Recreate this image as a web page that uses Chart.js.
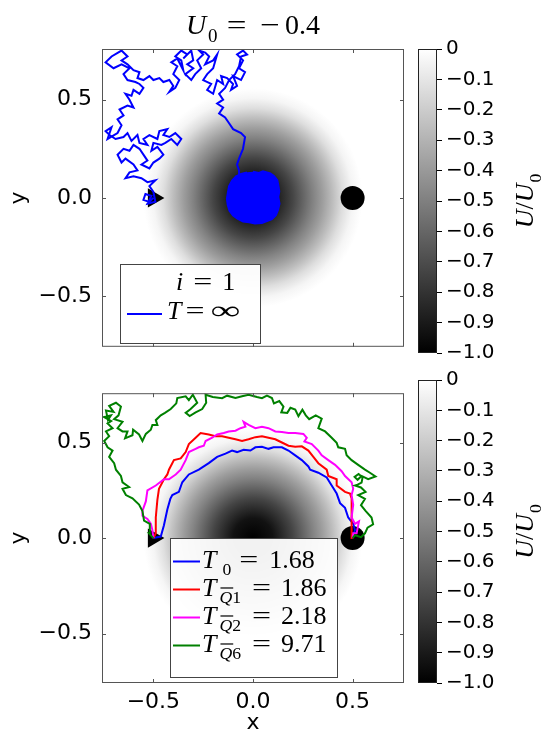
<!DOCTYPE html>
<html>
<head>
<meta charset="utf-8">
<script src="https://cdn.jsdelivr.net/npm/chart.js@4.4.1/dist/chart.umd.min.js"></script>
<style>
  html, body { margin: 0; padding: 0; background: #fff; }
  body { width: 542px; height: 739px; position: relative; overflow: hidden; }
  canvas { position: absolute; }
</style>
</head>
<body>
<canvas id="cbTop" width="132" height="370" style="left:410px;top:0;width:132px;height:370px"></canvas>
<canvas id="cbBottom" width="132" height="379" style="left:410px;top:360px;width:132px;height:379px"></canvas>
<canvas id="topPlot" width="416" height="370" style="left:0;top:0;width:416px;height:370px"></canvas>
<canvas id="bottomPlot" width="416" height="369" style="left:0;top:370px;width:416px;height:369px"></canvas>
<script>
// axes
const axisLim = 0.758;
const xyTicks = [-0.5, 0, 0.5];
const cbTicks = [0, -0.1, -0.2, -0.3, -0.4, -0.5, -0.6, -0.7, -0.8, -0.9, -1.0];
const cbLabels = ['0', '−0.1', '−0.2', '−0.3', '−0.4', '−0.5', '−0.6', '−0.7', '−0.8', '−0.9', '−1.0'];

// radial profile of the well, U/U0 against r
const potentialR = [0, 0.1, 0.2, 0.3, 0.35, 0.4, 0.45, 0.5, 0.55];
const potentialU = [-1, -0.93, -0.73, -0.49, -0.38, -0.26, -0.13, -0.04, 0];

// start (triangle) and target (circle)
const startPt = [-0.5, 0];
const targetPt = [0.5, 0];

// top panel: i = 1, T = inf
const walkTop = [
  [-0.5,0],[-0.52,-0.02],[-0.55,-0.01],[-0.54,0.02],[-0.51,0.01],[-0.53,-0.03],[-0.49,-0.02],[-0.5,0.03],
  [-0.52,0.06],[-0.49,0.09],[-0.53,0.08],[-0.56,0.1],[-0.6,0.11],[-0.64,0.1],[-0.62,0.13],[-0.58,0.14],
  [-0.6,0.17],[-0.64,0.2],[-0.66,0.18],[-0.68,0.22],[-0.65,0.25],[-0.62,0.24],[-0.6,0.27],[-0.57,0.25],
  [-0.55,0.22],[-0.53,0.19],[-0.56,0.17],[-0.52,0.15],[-0.5,0.18],[-0.47,0.2],[-0.45,0.22],[-0.48,0.26],
  [-0.51,0.24],[-0.5,0.28],[-0.46,0.27],[-0.44,0.28],[-0.41,0.3],[-0.38,0.27],[-0.36,0.3],[-0.39,0.33],
  [-0.42,0.31],[-0.45,0.32],[-0.43,0.35],[-0.47,0.34],[-0.48,0.3],[-0.52,0.32],[-0.55,0.3],[-0.53,0.27],
  [-0.57,0.28],[-0.58,0.32],[-0.61,0.29],[-0.63,0.33],[-0.65,0.31],[-0.69,0.3],[-0.72,0.32],[-0.74,0.34],
  [-0.71,0.36],[-0.73,0.3],[-0.68,0.33],[-0.66,0.37],[-0.68,0.4],[-0.65,0.42],[-0.67,0.45],[-0.63,0.47],
  [-0.6,0.46],[-0.62,0.5],[-0.64,0.53],[-0.61,0.52],[-0.6,0.55],[-0.57,0.53],[-0.55,0.56],[-0.57,0.58],
  [-0.59,0.59],[-0.63,0.6],[-0.65,0.63],[-0.62,0.66],[-0.66,0.68],[-0.7,0.66],[-0.74,0.69],[-0.71,0.72],
  [-0.66,0.75],[-0.63,0.72],[-0.66,0.7],[-0.63,0.68],[-0.6,0.65],[-0.57,0.64],[-0.58,0.61],[-0.55,0.6],
  [-0.52,0.62],[-0.5,0.6],[-0.47,0.61],[-0.45,0.59],[-0.42,0.6],[-0.4,0.57],[-0.42,0.54],[-0.39,0.56],
  [-0.37,0.6],[-0.4,0.63],[-0.38,0.67],[-0.41,0.69],[-0.38,0.71],[-0.35,0.65],[-0.36,0.7],[-0.39,0.72],
  [-0.36,0.75],[-0.33,0.73],[-0.35,0.71],[-0.31,0.75],[-0.3,0.7],[-0.33,0.68],[-0.3,0.66],[-0.34,0.63],
  [-0.31,0.6],[-0.29,0.63],[-0.26,0.66],[-0.28,0.7],[-0.25,0.73],[-0.27,0.75],[-0.24,0.74],[-0.22,0.72],
  [-0.24,0.68],[-0.2,0.7],[-0.18,0.73],[-0.2,0.66],[-0.23,0.63],[-0.25,0.6],[-0.21,0.58],[-0.23,0.55],
  [-0.2,0.53],[-0.18,0.6],[-0.15,0.58],[-0.16,0.62],[-0.13,0.61],[-0.1,0.58],[-0.11,0.55],[-0.08,0.57],
  [-0.1,0.62],[-0.06,0.6],[-0.04,0.64],[-0.07,0.66],[-0.05,0.7],[-0.08,0.73],[-0.05,0.75],[-0.03,0.73],
  [-0.06,0.72],[-0.07,0.67],[-0.09,0.63],[-0.12,0.6],[-0.14,0.56],[-0.17,0.53],[-0.15,0.5],[-0.18,0.48],
  [-0.15,0.46],[-0.17,0.43],[-0.14,0.41],[-0.12,0.38],[-0.1,0.35],[-0.06,0.33],[-0.04,0.31],[-0.05,0.25],
  [-0.07,0.2],[-0.08,0.17],[-0.07,0.14],[-0.07,0.1],[-0.05,0.07]
];
// the walker ends up trapped in the well: the dense knot round the centre
const trapTop = [
  [0,0.133],[0.03,0.127],[0.05,0.135],[0.087,0.125],[0.105,0.112],[0.122,0.09],[0.128,0.06],[0.132,0.033],
  [0.127,0.005],[0.133,-0.03],[0.126,-0.06],[0.115,-0.088],[0.095,-0.108],[0.07,-0.118],[0.045,-0.128],
  [0.01,-0.13],[-0.02,-0.124],[-0.05,-0.12],[-0.078,-0.106],[-0.1,-0.09],[-0.118,-0.066],[-0.127,-0.035],
  [-0.131,-0.005],[-0.126,0.028],[-0.12,0.06],[-0.105,0.088],[-0.085,0.11],[-0.06,0.122],[-0.03,0.13]
];

// bottom panel: optimal paths
const pathNames = ['0', 'Q1', 'Q2', 'Q6'];
const pathTimes = ['1.68', '1.86', '2.18', '9.71'];
const pathColors = ['#0000ff', '#ff0000', '#ff00ff', '#008000'];

const pathT0 = [
  [-0.5,0],[-0.463,0.008],[-0.447,0.067],[-0.43,0.15],[-0.415,0.205],[-0.405,0.225],[-0.372,0.242],
  [-0.355,0.292],[-0.322,0.333],[-0.272,0.358],[-0.222,0.392],[-0.18,0.425],[-0.138,0.442],
  [-0.105,0.458],[-0.08,0.45],[-0.047,0.462],[-0.013,0.458],[0.012,0.475],[0.045,0.478],[0.078,0.467],
  [0.103,0.475],[0.145,0.475],[0.178,0.458],[0.212,0.433],[0.245,0.408],[0.278,0.375],[0.287,0.358],
  [0.328,0.342],[0.37,0.317],[0.395,0.275],[0.42,0.233],[0.437,0.183],[0.462,0.158],[0.478,0.108],
  [0.503,0.075],[0.512,0.042],[0.503,0.012],[0.5,0]
];
const pathQ1 = [
  [-0.5,0],[-0.488,0.025],[-0.488,0.108],[-0.48,0.2],[-0.472,0.258],[-0.447,0.308],[-0.43,0.333],
  [-0.422,0.358],[-0.397,0.408],[-0.363,0.417],[-0.338,0.45],[-0.322,0.492],[-0.288,0.525],
  [-0.263,0.55],[-0.222,0.542],[-0.188,0.533],[-0.155,0.533],[-0.122,0.525],[-0.088,0.517],
  [-0.055,0.508],[-0.022,0.517],[0.012,0.528],[0.045,0.533],[0.078,0.525],[0.112,0.517],[0.145,0.5],
  [0.178,0.483],[0.212,0.478],[0.245,0.48],[0.278,0.458],[0.303,0.425],[0.328,0.392],[0.37,0.358],
  [0.378,0.325],[0.42,0.308],[0.42,0.275],[0.462,0.242],[0.487,0.233],[0.495,0.208],[0.495,0.108],
  [0.495,0],[0.5,0]
];
const pathQ2 = [
  [-0.5,0],[-0.505,0.042],[-0.513,0.075],[-0.53,0.1],[-0.555,0.117],[-0.555,0.142],[-0.538,0.192],
  [-0.53,0.25],[-0.488,0.275],[-0.447,0.308],[-0.422,0.308],[-0.388,0.333],[-0.363,0.358],
  [-0.338,0.408],[-0.322,0.45],[-0.288,0.467],[-0.272,0.475],[-0.247,0.483],[-0.238,0.508],
  [-0.205,0.525],[-0.18,0.542],[-0.147,0.55],[-0.122,0.558],[-0.088,0.562],[-0.063,0.575],
  [-0.038,0.583],[-0.047,0.608],[-0.022,0.592],[0.012,0.575],[0.045,0.583],[0.078,0.575],
  [0.112,0.558],[0.145,0.555],[0.178,0.55],[0.212,0.55],[0.253,0.545],[0.27,0.525],[0.258,0.505],
  [0.295,0.492],[0.328,0.458],[0.345,0.433],[0.378,0.408],[0.412,0.383],[0.445,0.35],[0.462,0.325],
  [0.495,0.292],[0.503,0.258],[0.495,0.225],[0.503,0.175],[0.495,0.108],[0.512,0.075],[0.532,0.088],
  [0.52,0.025],[0.503,0.025],[0.5,0]
];
const pathQ6 = [
  [-0.5,0],[-0.522,0.025],[-0.518,0.075],[-0.547,0.092],[-0.555,0.142],[-0.572,0.175],[-0.605,0.208],
  [-0.638,0.225],[-0.655,0.258],[-0.622,0.267],[-0.655,0.292],[-0.663,0.325],[-0.688,0.358],
  [-0.697,0.392],[-0.722,0.425],[-0.705,0.458],[-0.73,0.475],[-0.747,0.508],[-0.722,0.533],
  [-0.738,0.558],[-0.705,0.575],[-0.73,0.6],[-0.712,0.612],[-0.747,0.633],[-0.713,0.642],
  [-0.728,0.618],[-0.738,0.667],[-0.7,0.66],[-0.722,0.692],[-0.688,0.708],[-0.663,0.688],
  [-0.675,0.642],[-0.697,0.622],[-0.655,0.608],[-0.68,0.575],[-0.655,0.558],[-0.63,0.558],
  [-0.642,0.522],[-0.605,0.538],[-0.602,0.567],[-0.572,0.542],[-0.555,0.508],[-0.538,0.545],
  [-0.513,0.567],[-0.505,0.592],[-0.48,0.592],[-0.488,0.617],[-0.463,0.642],[-0.442,0.655],
  [-0.413,0.675],[-0.385,0.705],[-0.38,0.733],[-0.338,0.742],[-0.322,0.722],[-0.302,0.75],
  [-0.28,0.708],[-0.313,0.675],[-0.338,0.655],[-0.318,0.638],[-0.288,0.658],[-0.255,0.675],
  [-0.235,0.708],[-0.238,0.75],[-0.202,0.738],[-0.155,0.732],[-0.13,0.745],[-0.088,0.733],
  [-0.055,0.742],[-0.022,0.75],[0.02,0.738],[0.045,0.732],[0.07,0.745],[0.095,0.733],[0.105,0.705],
  [0.132,0.717],[0.153,0.688],[0.142,0.658],[0.172,0.655],[0.188,0.682],[0.212,0.672],[0.228,0.638],
  [0.248,0.672],[0.265,0.642],[0.282,0.622],[0.315,0.642],[0.345,0.625],[0.328,0.575],[0.362,0.558],
  [0.395,0.525],[0.42,0.498],[0.428,0.475],[0.462,0.467],[0.47,0.433],[0.495,0.408],[0.528,0.383],
  [0.562,0.358],[0.587,0.342],[0.615,0.322],[0.578,0.308],[0.545,0.325],[0.525,0.305],[0.51,0.32],
  [0.53,0.335],[0.55,0.318],[0.545,0.29],[0.525,0.28],[0.512,0.275],[0.542,0.265],[0.565,0.242],
  [0.528,0.225],[0.562,0.205],[0.542,0.172],[0.565,0.142],[0.595,0.108],[0.603,0.072],[0.575,0.055],
  [0.562,0.025],[0.542,0.005],[0.512,0.015],[0.5,0]
];
const bottomPaths = [pathT0, pathQ1, pathQ2, pathQ6];

const tickFont = { family: 'DejaVu Sans', size: 22 };
const mathFont = '"Liberation Serif", "DejaVu Serif", serif';
const fmt = v => (v === 0 ? '0.0' : v.toFixed(1)).replace('-', '−');
const pts = arr => arr.map(p => ({ x: p[0], y: p[1] }));

// small helper for the mathtext-like labels: segments of plain / italic / subscript text
function segFont(s, size) {
  return (s.it ? 'italic ' : '') + (s.sub ? size * 0.68 : size) + 'px ' + mathFont;
}
function richWidth(ctx, segs, size) {
  let w = 0;
  for (const s of segs) {
    if (s.gap) { w += s.gap; continue; }
    ctx.font = segFont(s, size);
    w += ctx.measureText(s.t).width * (s.sx || 1);
  }
  return w;
}
function drawRich(ctx, segs, x, y, size) {
  let cx = x;
  ctx.fillStyle = '#000';
  ctx.textAlign = 'left';
  ctx.textBaseline = 'alphabetic';
  for (const s of segs) {
    if (s.gap) { cx += s.gap; continue; }
    const fs = s.sub ? size * 0.68 : size;
    ctx.font = segFont(s, size);
    const dy = s.sub ? size * 0.3 : 0;
    const w = ctx.measureText(s.t).width * (s.sx || 1);
    ctx.save();
    ctx.translate(cx, y + dy);
    ctx.scale(s.sx || 1, 1);
    ctx.fillText(s.t, 0, 0);
    ctx.restore();
    if (s.bar) ctx.fillRect(cx + 1, y + dy - fs * 0.9, w, 1.2);
    cx += w;
  }
}

const potentialBg = {
  id: 'potentialBg',
  beforeDatasetsDraw(chart) {
    const { ctx, chartArea: a, scales: { x, y } } = chart;
    ctx.save();
    ctx.beginPath();
    ctx.rect(a.left, a.top, a.width, a.height);
    ctx.clip();
    ctx.fillStyle = '#fff';
    ctx.fillRect(a.left, a.top, a.width, a.height);
    const cx = x.getPixelForValue(0), cy = y.getPixelForValue(0);
    const rMax = potentialR[potentialR.length - 1];
    const rPx = x.getPixelForValue(rMax) - cx;
    const g = ctx.createRadialGradient(cx, cy, 0, cx, cy, rPx);
    potentialR.forEach((r, i) => {
      const v = Math.round(255 * (1 + potentialU[i]));
      g.addColorStop(r / rMax, `rgb(${v},${v},${v})`);
    });
    ctx.fillStyle = g;
    ctx.fillRect(a.left, a.top, a.width, a.height);
    ctx.restore();
  }
};

const frame = {
  id: 'frame',
  afterDatasetsDraw(chart) {
    const { ctx, chartArea: a, scales: { x, y } } = chart;
    ctx.save();
    ctx.strokeStyle = '#555';
    ctx.lineWidth = 1;
    ctx.beginPath();
    xyTicks.forEach(v => {
      const px = Math.round(x.getPixelForValue(v)) + 0.5;
      ctx.moveTo(px, a.bottom); ctx.lineTo(px, a.bottom - 4);
      ctx.moveTo(px, a.top); ctx.lineTo(px, a.top + 4);
      const py = Math.round(y.getPixelForValue(v)) + 0.5;
      ctx.moveTo(a.left, py); ctx.lineTo(a.left + 4, py);
      ctx.moveTo(a.right, py); ctx.lineTo(a.right - 4, py);
    });
    ctx.stroke();
    ctx.strokeRect(a.left + 0.5, a.top + 0.5, a.width - 1, a.height - 1);
    ctx.restore();
  }
};

function legendBox(ctx, x, y, w, h) {
  ctx.save();
  ctx.fillStyle = 'rgba(255,255,255,0.95)';
  ctx.fillRect(x, y, w, h);
  ctx.strokeStyle = '#444';
  ctx.lineWidth = 1;
  ctx.strokeRect(x + 0.5, y + 0.5, w, h);
  ctx.restore();
}

const topDecor = {
  id: 'topDecor',
  afterDraw(chart) {
    const ctx = chart.ctx;
    // title
    const title = [{ t: 'U', it: 1 }, { gap: 2 }, { t: '0', sub: 1 }, { gap: 9 }, { t: '=', sx: 1.25 }, { gap: 14 }, { t: '−', sx: 1.25 }, { gap: 5 }, { t: '0.4' }];
    const tw = richWidth(ctx, title, 28);
    drawRich(ctx, title, 253 - tw / 2, 34, 28);
    // legend
    legendBox(ctx, 120, 264, 140, 79);
    drawRich(ctx, [{ t: 'i', it: 1 }, { gap: 10 }, { t: '=', sx: 1.3 }, { gap: 10 }, { t: '1' }], 176, 290, 26);
    ctx.save();
    ctx.strokeStyle = pathColors[0];
    ctx.lineWidth = 2;
    ctx.beginPath(); ctx.moveTo(127, 314); ctx.lineTo(162, 314); ctx.stroke();
    ctx.restore();
    drawRich(ctx, [{ t: 'T', it: 1 }, { gap: 4 }, { t: '=', sx: 1.3 }, { gap: 6 }, { t: '∞', sx: 1.6 }], 167, 319, 26);
  }
};

const bottomDecor = {
  id: 'bottomDecor',
  afterDraw(chart) {
    const ctx = chart.ctx;
    legendBox(ctx, 170, 168, 167, 139);
    pathNames.forEach((name, i) => {
      const yy = 191.5 + i * 28;
      ctx.save();
      ctx.strokeStyle = pathColors[i];
      ctx.lineWidth = 2;
      ctx.beginPath(); ctx.moveTo(173, yy); ctx.lineTo(200, yy); ctx.stroke();
      ctx.restore();
      const segs = name === '0'
        ? [{ t: 'T', it: 1 }, { gap: 6 }, { t: '0', sub: 1 }, { gap: 8 }, { t: '=', sx: 1.3 }, { gap: 11 }, { t: pathTimes[i] }]
        : [{ t: 'T', it: 1 }, { gap: 3 }, { t: name[0], it: 1, sub: 1, bar: 1 }, { t: name.slice(1), sub: 1 }, { gap: 11 }, { t: '=', sx: 1.3 }, { gap: 10 }, { t: pathTimes[i] }];
      drawRich(ctx, segs, 202, yy + 6, 26);
    });
  }
};

function panelScales(showX, xHeight) {
  return {
    x: {
      type: 'linear', min: -axisLim, max: axisLim,
      afterBuildTicks: s => { s.ticks = xyTicks.map(v => ({ value: v })); },
      afterFit: s => { s.height = xHeight; },
      grid: { display: false, drawTicks: false },
      border: { display: false },
      ticks: { display: showX, padding: 6, color: '#000', font: tickFont, callback: v => fmt(v) },
      title: { display: showX, text: 'x', color: '#000', font: tickFont, padding: { top: 0, bottom: 3 } }
    },
    y: {
      type: 'linear', min: -axisLim, max: axisLim,
      afterBuildTicks: s => { s.ticks = xyTicks.map(v => ({ value: v })); },
      afterFit: s => { s.width = 102; },
      grid: { display: false, drawTicks: false },
      border: { display: false },
      ticks: { padding: 10, color: '#000', font: tickFont, callback: v => fmt(v) },
      title: { display: true, text: 'y', color: '#000', font: tickFont, padding: { top: 6, bottom: 0 } }
    }
  };
}

function markerSets() {
  return [
    { data: pts([startPt]), pointStyle: 'triangle', rotation: 90, pointRadius: 11, backgroundColor: '#000', borderColor: '#000', borderWidth: 0, showLine: false, order: 10 },
    { data: pts([targetPt]), pointStyle: 'circle', pointRadius: 12, backgroundColor: '#000', borderColor: '#000', borderWidth: 0, showLine: false, order: 10 }
  ];
}

function lineSet(arr, color, order) {
  return { data: pts(arr), borderColor: color, borderWidth: 2, pointRadius: 0, showLine: true, fill: false, tension: 0, order: order };
}

const common = {
  responsive: false, animation: false, events: [],
  plugins: { legend: { display: false }, tooltip: { enabled: false }, title: { display: false } }
};

new Chart(document.getElementById('topPlot'), {
  type: 'scatter',
  data: {
    datasets: [
      ...markerSets(),
      lineSet(walkTop, pathColors[0], 2),
      { data: pts(trapTop), borderColor: pathColors[0], backgroundColor: pathColors[0], borderWidth: 2, pointRadius: 0, showLine: true, fill: 'shape', tension: 0, order: 1 }
    ]
  },
  options: { ...common, layout: { padding: { left: 0, right: 10, top: 49, bottom: 0 } }, scales: panelScales(false, 17) },
  plugins: [potentialBg, frame, topDecor]
});

new Chart(document.getElementById('bottomPlot'), {
  type: 'scatter',
  data: {
    datasets: [
      ...markerSets(),
      ...bottomPaths.map((p, i) => lineSet(p, pathColors[i], 5 - i))
    ]
  },
  options: { ...common, layout: { padding: { left: 0, right: 10, top: 10, bottom: 0 } }, scales: panelScales(true, 56) },
  plugins: [potentialBg, frame, bottomDecor]
});

const cbDecor = {
  id: 'cbDecor',
  afterDraw(chart) {
    const { ctx, chartArea: a } = chart;
    ctx.save();
    ctx.strokeStyle = '#222';
    ctx.lineWidth = 1;
    ctx.strokeRect(a.left + 0.5, a.top + 0.5, a.width - 1, a.height - 1);
    ctx.translate(123, (a.top + a.bottom) / 2);
    ctx.rotate(-Math.PI / 2);
    const segs = [{ t: 'U', it: 1 }, { t: '/' }, { t: 'U', it: 1 }, { gap: 1 }, { t: '0', sub: 1 }];
    const w = richWidth(ctx, segs, 26);
    drawRich(ctx, segs, -w / 2, 0, 26);
    ctx.restore();
  }
};

function colorbar(id, padTop, padBottom) {
  return new Chart(document.getElementById(id), {
    type: 'bar',
    data: {
      labels: [''],
      datasets: [{
        data: [[cbTicks[cbTicks.length - 1], cbTicks[0]]],
        backgroundColor: c => {
          const a = c.chart.chartArea;
          if (!a || !isFinite(a.top) || !isFinite(a.bottom)) return '#888';
          const g = c.chart.ctx.createLinearGradient(0, a.top, 0, a.bottom);
          g.addColorStop(0, '#ffffff');
          g.addColorStop(1, '#000000');
          return g;
        },
        borderWidth: 0, barPercentage: 1, categoryPercentage: 1
      }]
    },
    options: {
      ...common,
      layout: { padding: { left: 8, right: 0, top: padTop, bottom: padBottom } },
      scales: {
        x: { display: false },
        y: {
          position: 'right', min: -1, max: 0,
          afterBuildTicks: s => { s.ticks = cbTicks.map(v => ({ value: v })); },
          afterFit: s => { s.width = 105; },
          grid: { drawOnChartArea: false, drawTicks: true, tickLength: 5, color: '#000', lineWidth: 1 },
          border: { display: false },
          ticks: { padding: 4, color: '#000', font: { family: 'DejaVu Sans', size: 20 }, callback: (v, i) => cbLabels[i] }
        }
      }
    },
    plugins: [cbDecor]
  });
}
colorbar('cbTop', 49, 17);
colorbar('cbBottom', 20, 56);
</script>
</body>
</html>
